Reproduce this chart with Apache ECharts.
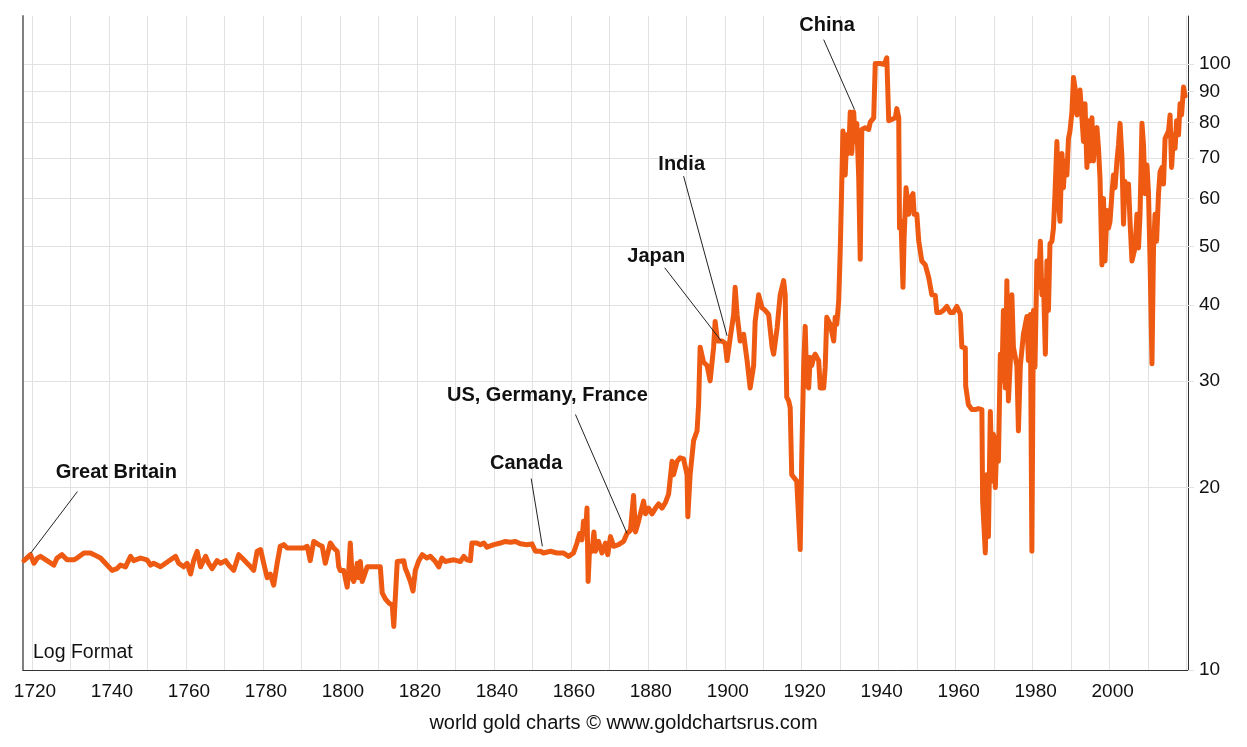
<!DOCTYPE html>
<html>
<head>
<meta charset="utf-8">
<script src="https://cdn.jsdelivr.net/npm/echarts@6/dist/echarts.min.js"></script>
<style>
html,body{margin:0;padding:0;background:#fff;}
#chart{width:1247px;height:747px;}
</style>
</head>
<body>
<div id="chart"></div>
<script>
// ---- data ----
const years = [
1717.9,1719.6,1720.5,1721.4,1722.2,1723.9,1725.7,1726.5,1727.8,1729.1,1730.9,1731.7,1733.5,1735.2,1736.1,1737.8,1739.5,1740.8,1742.1,1743.0,
1744.3,1745.6,1746.4,1748.2,1749.9,1750.8,1751.6,1753.4,1754.7,1756.0,1757.3,1758.1,1759.4,1760.3,1761.2,1762.0,1762.9,1763.8,1765.1,1765.9,
1766.8,1768.1,1769.0,1770.3,1771.1,1772.4,1773.7,1774.6,1775.9,1776.8,1777.6,1778.5,1779.4,1780.2,1781.1,1781.9,1782.8,1783.7,1784.5,1785.4,
1786.3,1788.0,1790.6,1791.5,1792.3,1793.2,1794.5,1795.4,1796.2,1797.5,1798.4,1799.3,1799.7,1800.1,1801.0,1801.9,1802.3,1802.7,1803.2,1803.6,
1804.1,1804.5,1804.9,1805.3,1805.8,1806.2,1807.1,1810.5,1811.0,1811.8,1812.7,1813.6,1814.0,1814.4,1814.9,1816.6,1817.0,1817.6,1818.3,1819.0,
1819.6,1820.5,1821.4,1822.6,1823.5,1824.8,1825.7,1826.5,1827.4,1828.3,1829.6,1830.4,1831.3,1832.2,1833.0,1833.9,1834.3,1835.6,1836.5,1837.4,
1838.2,1840.0,1841.7,1843.0,1844.3,1845.6,1846.9,1848.6,1849.9,1850.8,1852.1,1852.9,1854.7,1856.4,1858.1,1859.4,1860.7,1861.6,1862.3,1862.9,
1863.3,1863.8,1864.2,1864.5,1864.9,1865.5,1866.0,1866.4,1867.2,1868.1,1869.0,1869.6,1870.3,1871.1,1872.4,1873.7,1874.6,1875.5,1876.3,1876.8,
1877.6,1878.9,1879.4,1880.2,1881.1,1882.0,1882.8,1883.7,1884.6,1885.4,1886.3,1886.7,1887.6,1888.4,1889.3,1890.2,1890.4,1891.0,1891.9,1892.8,
1893.2,1893.6,1894.1,1894.5,1895.4,1896.2,1897.1,1897.5,1898.1,1899.3,1900.1,1900.6,1901.4,1902.3,1902.7,1903.2,1904.0,1904.9,1905.8,1906.6,
1907.5,1907.9,1908.8,1909.7,1910.5,1911.4,1912.3,1912.7,1913.6,1914.4,1915.3,1915.7,1916.1,1916.6,1917.0,1917.4,1917.9,1918.7,1919.6,1920.0,
1920.5,1920.9,1921.3,1921.8,1922.2,1922.6,1923.1,1923.5,1924.4,1924.8,1925.7,1926.1,1926.5,1927.4,1928.3,1928.7,1929.1,1929.6,1930.0,1930.3,
1930.7,1931.3,1931.7,1932.2,1932.6,1933.0,1933.5,1933.9,1934.3,1934.8,1935.2,1935.6,1936.5,1937.4,1937.8,1938.7,1939.1,1940.4,1941.3,1941.7,
1942.1,1942.6,1943.4,1944.3,1944.7,1945.2,1945.4,1945.8,1946.3,1946.6,1947.1,1947.8,1948.2,1948.9,1949.2,1949.9,1950.4,1951.2,1952.1,1953.0,
1953.8,1954.7,1955.1,1956.0,1956.8,1957.7,1958.6,1959.4,1960.3,1961.2,1961.6,1962.5,1962.6,1963.3,1964.2,1965.1,1965.9,1966.8,1967.0,1967.7,
1968.1,1968.5,1969.0,1969.4,1969.8,1970.3,1970.7,1971.1,1971.6,1972.0,1972.4,1972.9,1973.3,1973.7,1974.2,1974.6,1975.0,1975.9,1976.3,1976.8,
1977.6,1978.5,1978.9,1979.4,1979.8,1980.2,1980.6,1981.1,1981.5,1982.0,1982.4,1982.8,1983.3,1983.7,1984.1,1984.5,1985.0,1985.4,1985.8,1986.3,
1986.7,1987.1,1987.6,1988.0,1988.4,1988.9,1989.3,1989.7,1990.2,1990.6,1991.0,1991.5,1991.9,1992.3,1992.8,1993.2,1993.6,1994.1,1994.5,1994.9,
1995.4,1995.8,1996.2,1996.7,1997.1,1997.5,1998.0,1998.4,1998.8,1999.3,1999.7,2000.1,2000.6,2001.0,2001.4,2001.9,2002.3,2002.7,2003.2,2003.6,
2004.0,2004.5,2004.9,2005.3,2005.8,2006.2,2006.6,2007.1,2007.5,2007.9,2008.4,2008.8,2009.2,2009.7,2010.1,2010.5,2011.0,2011.4,2011.8,2012.2,
2012.7,2013.1,2013.6,2014.0,2014.4,2014.9,2015.3,2015.7,2016.1,2016.6,2017.0,2017.4,2017.9,2018.3,2018.7,2019.2,2019.6
];
const values = [
15.15,15.5,15.0,15.3,15.4,15.15,14.9,15.3,15.5,15.2,15.2,15.3,15.6,15.6,15.5,15.3,14.9,14.6,14.7,14.9,
14.8,15.4,15.15,15.3,15.2,14.9,15.0,14.8,15.0,15.2,15.4,15.0,14.8,15.0,14.4,15.15,15.7,14.8,15.4,15.0,
14.7,15.15,15.0,15.15,14.9,14.6,15.5,15.3,15.0,14.8,14.6,15.7,15.8,15.0,14.2,14.4,13.8,15.0,16.0,16.1,
15.9,15.9,15.9,16.0,15.15,16.3,16.1,16.0,15.0,16.2,15.9,15.7,14.8,14.6,14.6,13.7,14.6,16.2,14.2,14.0,
14.4,15.0,14.2,15.1,14.0,13.9,14.8,14.8,13.4,13.1,12.9,12.8,11.8,11.8,15.1,15.15,14.7,14.4,14.0,13.5,
14.6,15.15,15.5,15.3,15.4,15.1,14.8,15.3,15.1,15.15,15.2,15.15,15.1,15.4,15.2,15.15,16.2,16.2,16.1,16.2,
15.95,16.1,16.2,16.3,16.25,16.3,16.15,16.1,16.15,15.7,15.7,15.6,15.7,15.6,15.6,15.4,15.6,16.2,16.8,16.4,
17.6,16.8,18.5,14.0,16.0,15.7,16.9,15.7,16.3,15.6,16.2,15.5,16.6,16.0,16.1,16.3,16.8,17.0,19.4,16.9,
17.6,19.0,18.1,18.5,18.1,18.5,18.8,18.5,18.9,19.5,22.1,21.0,22.1,22.4,22.3,21.0,17.9,21.0,23.9,24.8,
27.4,34.1,34.1,32.2,31.8,30.0,34.1,37.6,34.9,34.9,34.6,32.4,35.3,38.6,42.8,38.6,34.9,35.8,32.4,29.2,
31.8,37.6,41.6,39.6,39.2,38.6,34.1,33.2,36.7,41.6,43.9,41.6,28.2,27.8,27.1,21.0,20.8,20.5,15.8,22.4,
31.8,36.9,29.6,29.2,32.8,31.8,32.8,33.2,32.4,29.2,29.2,31.6,38.2,37.2,34.9,38.2,37.2,40.6,49.2,59.5,
77.5,65.6,76.4,71.2,83.3,71.2,83.3,74.5,79.8,64.9,47.6,78.0,78.5,78.0,80.2,81.5,100.2,100.2,99.9,100.8,
102.4,80.6,81.0,81.5,84.4,81.5,53.6,55.0,42.8,51.7,62.5,56.5,60.0,61.1,56.5,56.5,51.0,47.3,46.6,44.4,
41.6,41.5,38.9,38.9,39.2,39.8,38.9,38.9,39.8,38.7,34.1,34.0,29.4,27.4,26.9,26.9,27.0,26.9,19.0,15.6,
21.0,16.6,26.7,20.5,24.5,20.0,24.2,22.1,33.2,30.0,39.2,29.2,43.9,27.8,32.4,41.6,34.1,31.8,24.8,31.8,
35.8,38.3,32.4,38.6,15.7,39.2,31.6,47.3,42.8,51.0,41.6,43.9,33.2,47.3,39.2,50.5,51.0,53.6,61.1,74.5,
59.5,55.0,71.2,62.5,69.2,65.6,75.3,77.5,83.3,95.0,91.4,82.4,88.1,90.6,81.5,74.5,86.0,67.5,80.6,69.2,
81.5,69.2,77.5,78.5,72.6,64.9,46.6,60.0,47.3,57.3,53.6,55.0,61.1,65.6,62.5,69.2,73.6,79.8,70.0,54.4,
64.0,59.5,63.4,55.0,47.3,47.3,49.7,56.5,49.7,56.5,79.8,73.6,61.1,68.1,61.1,47.3,32.0,49.7,56.5,51.0,
61.1,66.4,67.5,63.4,75.3,75.3,77.5,82.4,67.5,76.4,72.6,80.6,76.4,86.0,82.4,91.6,88.6
];
const xTickYears = [1720,1730,1740,1750,1760,1770,1780,1790,1800,1810,1820,1830,1840,1850,1860,1870,1880,1890,1900,1910,1920,1930,1940,1950,1960,1970,1980,1990,2000,2010,2020];
const xLabelYears = [1720,1740,1760,1780,1800,1820,1840,1860,1880,1900,1920,1940,1960,1980,2000];
const yTickValues = [10,20,30,40,50,60,70,80,90,100];

// annotations: label, text anchor (year, value), leader line start and end (year, value)
const annLabels = ['Great Britain','Canada','US, Germany, France','Japan','India','China'];
const annTextX  = [1741.9,1848.4,1853.9,1882.2,1888.8,1926.6];
const annTextY  = [21.2,21.9,28.4,48.2,68.3,115.8];
const annFromX  = [1731.8,1849.7,1861.2,1884.4,1889.3,1925.7];
const annFromY  = [19.7,20.7,26.4,46.1,65.3,109.7];
const annToX    = [1719.7,1852.6,1874.6,1899.1,1900.6,1933.7];
const annToY    = [15.6,16.0,16.8,34.9,35.6,84.1];

// ---- chart ----
const FONT = "'Liberation Sans', Arial, Helvetica, sans-serif";
const chart = echarts.init(document.getElementById('chart'), null, {renderer:'canvas'});
const lineData = years.map((y,i)=>[y, values[i]]);
const annData = annLabels.map((t,i)=>({name:t, value:[annTextX[i], annTextY[i]]}));
const leaderLines = annLabels.map((t,i)=>[{coord:[annFromX[i], annFromY[i]]},{coord:[annToX[i], annToY[i]]}]);

chart.setOption({
  animation:false,
  backgroundColor:'#ffffff',
  textStyle:{fontFamily:FONT},
  grid:{left:23, right:59, top:16, bottom:77, containLabel:false},
  xAxis:{
    type:'value', min:1717.66, max:2020.36,
    axisLine:{show:true, onZero:false, lineStyle:{color:'#333', width:1}},
    axisTick:{show:false, customValues:xTickYears},
    axisLabel:{show:true, customValues:xLabelYears, formatter:v=>String(Math.round(v)), fontSize:19, color:'#111', margin:12, fontFamily:FONT, padding:[0,0,0,6]},
    splitLine:{show:true, lineStyle:{color:'#e2e2e2', width:1}}
  },
  yAxis:[{
    type:'log', logBase:10, min:10, max:120, position:'right',
    axisLine:{show:true, lineStyle:{color:'#333', width:1}},
    axisTick:{show:true, customValues:yTickValues, length:6, lineStyle:{color:'#e2e2e2'}},
    axisLabel:{show:true, customValues:yTickValues, formatter:v=>String(Math.round(v)), fontSize:19, color:'#111', margin:11, fontFamily:FONT},
    splitLine:{show:true, lineStyle:{color:'#e2e2e2', width:1}}
  },{
    type:'log', logBase:10, min:10, max:120, position:'left',
    axisLine:{show:true, lineStyle:{color:'#808080', width:2}},
    axisTick:{show:false}, axisLabel:{show:false}, splitLine:{show:false}
  }],
  series:[{
    type:'line', data:lineData, showSymbol:false, symbol:'none',
    lineStyle:{color:'#ee5a12', width:5, join:'round', cap:'round'},
    emphasis:{disabled:true},
    clip:true, z:3
  },{
    type:'scatter', data:annData, symbolSize:0,
    itemStyle:{color:'#111', opacity:1},
    emphasis:{disabled:true},
    label:{show:true, position:'inside', formatter:p=>p.name, fontSize:20, fontWeight:'bold',
      color:'#111', opacity:1, textBorderWidth:0, textBorderColor:'transparent', fontFamily:FONT},
    markLine:{silent:true, symbol:['none','none'], label:{show:false},
      lineStyle:{color:'#222', width:1, type:'solid'}, data:leaderLines, animation:false},
    z:4
  }],
  graphic:[
    {type:'text', left:33, top:643, style:{text:'Log Format', fontSize:19.5, fill:'#111', fontFamily:FONT}},
    {type:'text', left:'center', top:713, style:{text:'world gold charts © www.goldchartsrus.com', fontSize:20, fill:'#111', fontFamily:FONT}}
  ]
});
</script>
</body>
</html>
